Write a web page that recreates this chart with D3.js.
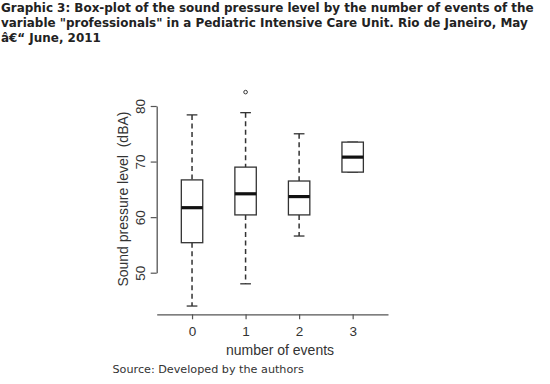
<!DOCTYPE html>
<html>
<head>
<meta charset="utf-8">
<script src="https://cdn.jsdelivr.net/npm/d3@7"></script>
<style>
  body { margin: 0; background: #fff; }
  svg { display: block; }
</style>
</head>
<body>
<div id="viz"></div>
<script>
// ---- data ----
var categories  = ["0", "1", "2", "3"];
var whiskerLow  = [44.0, 48.0, 56.6, 68.1];
var quartile1   = [55.4, 60.4, 60.4, 68.1];
var medians     = [61.7, 64.2, 63.7, 70.8];
var quartile3   = [66.7, 69.0, 66.5, 73.5];
var whiskerHigh = [78.4, 78.8, 75.0, 73.5];
var outliers    = [[], [82.5], [], []];
var yTicks      = [50, 60, 70, 80];

var titleLines = [
  "Graphic 3: Box-plot of the sound pressure level by the number of events of the",
  "variable \"professionals\" in a Pediatric Intensive Care Unit. Rio de Janeiro, May",
  "\u00e2\u20ac\u201c June, 2011"
];

var W = 550, H = 384;
var INK = "#333";

var svg = d3.select("#viz").append("svg")
  .attr("width", W)
  .attr("height", H);

// title
svg.append("g").selectAll("text")
  .data(titleLines)
  .enter().append("text")
  .attr("x", 1)
  .attr("y", function(d, i){ return 12 + i * 15; })
  .attr("font-family", "DejaVu Sans, Verdana, sans-serif")
  .attr("font-weight", "bold")
  .attr("font-size", 11.95)
  .attr("fill", "#222")
  .text(function(d){ return d; });

// scales: boxes sit at 1..4 like R, with 4% padding on each side
var x = d3.scaleLinear().domain([0.34, 4.66]).range([156.7, 388]);
var y = d3.scaleLinear().domain([50, 80]).range([272.7, 106]);
var boxW = x(1.4) - x(1);

var boxes = categories.map(function(c, i){
  return { cat: c, pos: i + 1, lo: whiskerLow[i], q1: quartile1[i], med: medians[i],
           q3: quartile3[i], hi: whiskerHigh[i], out: outliers[i] };
});

// axes
var yAxis = d3.axisLeft(y).tickValues(yTicks).tickSize(6).tickSizeOuter(0);
var gy = svg.append("g")
  .attr("transform", "translate(" + x.range()[0] + ",0)")
  .call(yAxis);
gy.selectAll("text")
  .attr("transform", "rotate(-90)")
  .attr("x", 0)
  .attr("y", -12)
  .attr("dy", 0)
  .attr("text-anchor", "middle")
  .attr("font-size", 13.5);

var xAxis = d3.axisBottom(x).tickValues([1, 2, 3, 4])
  .tickFormat(function(d){ return categories[d - 1]; })
  .tickSize(5).tickSizeOuter(0);
var gx = svg.append("g")
  .attr("transform", "translate(0,314.3)")
  .call(xAxis);
gx.selectAll("text").attr("y", 12).attr("font-size", 13.5);

[gx, gy].forEach(function(g){
  g.selectAll(".domain").attr("stroke", "#555").attr("stroke-width", 1.3);
  g.selectAll(".tick line").attr("stroke", "#555").attr("stroke-width", 1.2);
  g.selectAll("text")
    .attr("font-family", "Liberation Sans, Arial, sans-serif")
    .attr("fill", "#333");
});

// axis titles
svg.append("text")
  .attr("x", 280)
  .attr("y", 355)
  .attr("text-anchor", "middle")
  .attr("font-family", "Liberation Sans, Arial, sans-serif")
  .attr("font-size", 14)
  .attr("fill", "#333")
  .text("number of events");

svg.append("text")
  .attr("transform", "translate(128," + y(63.25) + ") rotate(-90)")
  .attr("text-anchor", "middle")
  .attr("font-family", "Liberation Sans, Arial, sans-serif")
  .attr("font-size", 14)
  .attr("fill", "#333")
  .style("white-space", "pre")
  .text("Sound pressure level  (dBA)");

// source note
svg.append("text")
  .attr("x", 112.5)
  .attr("y", 373)
  .attr("font-family", "DejaVu Sans, Verdana, sans-serif")
  .attr("font-size", 11.2)
  .attr("fill", "#333")
  .text("Source: Developed by the authors");

// box plots
var g = svg.append("g").selectAll("g")
  .data(boxes)
  .enter().append("g");

// whiskers (dashed)
g.append("line")
  .attr("x1", function(d){ return x(d.pos); })
  .attr("x2", function(d){ return x(d.pos); })
  .attr("y1", function(d){ return y(d.hi); })
  .attr("y2", function(d){ return y(d.q3); })
  .attr("stroke", INK).attr("stroke-width", 1.5)
  .attr("stroke-dasharray", "5,3.5");
g.append("line")
  .attr("x1", function(d){ return x(d.pos); })
  .attr("x2", function(d){ return x(d.pos); })
  .attr("y1", function(d){ return y(d.q1); })
  .attr("y2", function(d){ return y(d.lo); })
  .attr("stroke", INK).attr("stroke-width", 1.5)
  .attr("stroke-dasharray", "5,3.5");

// whisker caps
["hi", "lo"].forEach(function(k){
  g.append("line")
    .attr("x1", function(d){ return x(d.pos) - boxW / 4; })
    .attr("x2", function(d){ return x(d.pos) + boxW / 4; })
    .attr("y1", function(d){ return y(d[k]); })
    .attr("y2", function(d){ return y(d[k]); })
    .attr("stroke", INK).attr("stroke-width", 1.3);
});

// boxes
g.append("rect")
  .attr("x", function(d){ return x(d.pos) - boxW / 2; })
  .attr("y", function(d){ return y(d.q3); })
  .attr("width", boxW)
  .attr("height", function(d){ return y(d.q1) - y(d.q3); })
  .attr("fill", "#fff")
  .attr("stroke", INK).attr("stroke-width", 1.3);

// medians
g.append("line")
  .attr("x1", function(d){ return x(d.pos) - boxW / 2; })
  .attr("x2", function(d){ return x(d.pos) + boxW / 2; })
  .attr("y1", function(d){ return y(d.med); })
  .attr("y2", function(d){ return y(d.med); })
  .attr("stroke", "#111").attr("stroke-width", 3.2);

// outliers
g.selectAll("circle")
  .data(function(d){ return d.out.map(function(v){ return { pos: d.pos, v: v }; }); })
  .enter().append("circle")
  .attr("cx", function(d){ return x(d.pos); })
  .attr("cy", function(d){ return y(d.v); })
  .attr("r", 1.8)
  .attr("fill", "none")
  .attr("stroke", INK).attr("stroke-width", 1);
</script>
</body>
</html>
